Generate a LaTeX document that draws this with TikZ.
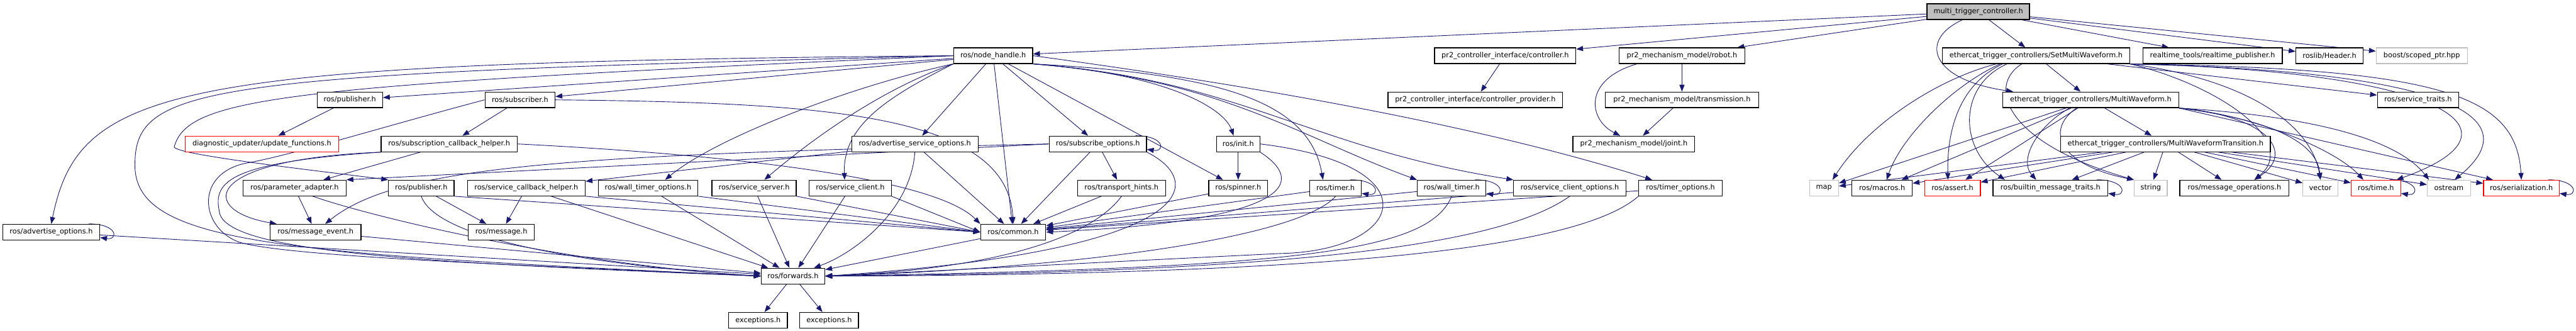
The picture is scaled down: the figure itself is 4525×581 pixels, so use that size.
\documentclass[tikz,border=0pt]{standalone}
\usepackage{fontspec}
\setmainfont{DejaVu Sans}
\usepackage{xcolor}
\usepackage{tikz}
\usetikzlibrary{arrows.meta, backgrounds}
\definecolor{depblue}{HTML}{191970}
\definecolor{boxgray}{HTML}{BFBFBF}
\definecolor{boxred}{HTML}{FF0000}

\begin{document}
\begin{tikzpicture}[x=1pt,y=1pt,font=\fontsize{12.5}{15}\selectfont,
    hdr/.style={draw=black,fill=white,line width=1.4pt,minimum height=27.5pt,inner sep=0pt},
    sys/.style={hdr,draw=boxgray},
    trunc/.style={hdr,draw=boxred},
    dep/.style={draw=depblue,line width=1pt,-{Triangle[length=12pt,width=9pt]}}]
        \useasboundingbox (0,0) rectangle (4525,-581);
        % top
        \node[hdr,fill=boxgray,minimum width=180pt] (mtc) at (3475,-20.5) {multi\_trigger\_controller.h};
        % row 1
        \node[hdr,minimum width=139pt] (nodehandle) at (1744.5,-97.8) {ros/node\_handle.h};
        \node[hdr,minimum width=248pt] (ctrl) at (2644,-97.8) {pr2\_controller\_interface/controller.h};
        \node[hdr,minimum width=221pt] (robot) at (2954.5,-97.8) {pr2\_mechanism\_model/robot.h};
        \node[hdr,minimum width=329pt] (setmw) at (3576.5,-97.8) {ethercat\_trigger\_controllers/SetMultiWaveform.h};
        \node[hdr,minimum width=245pt] (rtpub) at (3886.5,-97.8) {realtime\_tools/realtime\_publisher.h};
        \node[hdr,minimum width=118pt] (header) at (4092,-97.8) {roslib/Header.h};
        \node[sys,minimum width=160pt] (scoped) at (4254,-97.8) {boost/scoped\_ptr.hpp};
        % row 2
        \node[hdr,minimum width=115pt] (pub1) at (614.5,-175.3) {ros/publisher.h};
        \node[hdr,minimum width=123pt] (sub) at (913.5,-175.3) {ros/subscriber.h};
        \node[hdr,minimum width=307pt] (ctrlprov) at (2591.5,-175.3) {pr2\_controller\_interface/controller\_provider.h};
        \node[hdr,minimum width=269pt] (trans) at (2954.5,-175.3) {pr2\_mechanism\_model/transmission.h};
        \node[hdr,minimum width=309pt] (mw) at (3672.5,-175.3) {ethercat\_trigger\_controllers/MultiWaveform.h};
        \node[hdr,minimum width=143pt] (srvtraits) at (4247.5,-175.3) {ros/service\_traits.h};
        % row 3
        \node[trunc,minimum width=270pt] (diag) at (460,-252.7) {diagnostic\_updater/update\_functions.h};
        \node[hdr,minimum width=239pt] (subcb) at (789,-252.7) {ros/subscription\_callback\_helper.h};
        \node[hdr,minimum width=222pt] (advsrv) at (1607,-252.7) {ros/advertise\_service\_options.h};
        \node[hdr,minimum width=171pt] (subopt) at (1928.5,-252.7) {ros/subscribe\_options.h};
        \node[hdr,minimum width=76pt] (init) at (2175,-252.7) {ros/init.h};
        \node[hdr,minimum width=214pt] (joint) at (2870,-252.7) {pr2\_mechanism\_model/joint.h};
        \node[hdr,minimum width=368pt] (mwt) at (3804,-252.7) {ethercat\_trigger\_controllers/MultiWaveformTransition.h};
        % row 4
        \node[hdr,minimum width=181pt] (padapt) at (517.4,-330.1) {ros/parameter\_adapter.h};
        \node[hdr,minimum width=115pt] (pub2) at (740,-330.1) {ros/publisher.h};
        \node[hdr,minimum width=207pt] (srvcb) at (924.5,-330.1) {ros/service\_callback\_helper.h};
        \node[hdr,minimum width=175pt] (wtopt) at (1138.4,-330.1) {ros/wall\_timer\_options.h};
        \node[hdr,minimum width=148pt] (srvsrv) at (1324.6,-330.1) {ros/service\_server.h};
        \node[hdr,minimum width=144pt] (srvcli) at (1493.6,-330.1) {ros/service\_client.h};
        \node[hdr,minimum width=154.5pt] (hints) at (1970,-330.1) {ros/transport\_hints.h};
        \node[hdr,minimum width=103.6pt] (spinner) at (2175,-330.1) {ros/spinner.h};
        \node[hdr,minimum width=90.6pt] (timer) at (2346,-330.1) {ros/timer.h};
        \node[hdr,minimum width=120.5pt] (wtimer) at (2550,-330.1) {ros/wall\_timer.h};
        \node[hdr,minimum width=197pt] (scliopt) at (2757.4,-330.1) {ros/service\_client\_options.h};
        \node[hdr,minimum width=146.5pt] (topt) at (2952,-330.1) {ros/timer\_options.h};
        \node[sys,minimum width=51pt] (map) at (3204,-330.1) {map};
        \node[hdr,minimum width=106pt] (macros) at (3306,-330.1) {ros/macros.h};
        \node[trunc,minimum width=98pt] (assert) at (3429.7,-330.1) {ros/assert.h};
        \node[hdr,minimum width=201.6pt] (builtin) at (3601.8,-330.1) {ros/builtin\_message\_traits.h};
        \node[sys,minimum width=57.7pt] (string) at (3778,-330.1) {string};
        \node[hdr,minimum width=192pt] (msgops) at (3925,-330.1) {ros/message\_operations.h};
        \node[sys,minimum width=61.7pt] (vector) at (4076,-330.1) {vector};
        \node[trunc,minimum width=87pt] (time) at (4173.5,-330.1) {ros/time.h};
        \node[sys,minimum width=76pt] (ostream) at (4301.7,-330.1) {ostream};
        \node[trunc,minimum width=133pt] (serial) at (4429,-330.1) {ros/serialization.h};
        % row 5
        \node[hdr,minimum width=170.4pt] (advopt) at (90,-407.5) {ros/advertise\_options.h};
        \node[hdr,minimum width=159.4pt] (msgevent) at (554.3,-407.5) {ros/message\_event.h};
        \node[hdr,minimum width=116pt] (message) at (880.6,-407.5) {ros/message.h};
        \node[hdr,minimum width=114.5pt] (common) at (1779.75,-407.5) {ros/common.h};
        % bottom
        \node[hdr,minimum width=112pt] (forwards) at (1393,-484.7) {ros/forwards.h};
        \node[hdr,minimum width=103pt] (exc1) at (1331.5,-562.2) {exceptions.h};
        \node[hdr,minimum width=103pt] (exc2) at (1456.5,-562.2) {exceptions.h};

        \begin{scope}[on background layer]
        \fill[white] (0,0) rectangle (4525,-581);
        % straight includes
        \foreach \a/\b in {mtc/nodehandle,mtc/ctrl,mtc/robot,mtc/setmw,mtc/rtpub,mtc/header,mtc/scoped,
            ctrl/ctrlprov,robot/trans,trans/joint,setmw/mw,setmw/srvtraits,
            mw/mwt,mw/map,mw/macros,mw/assert,
            mwt/map,mwt/macros,mwt/assert,mwt/builtin,mwt/string,mwt/msgops,mwt/vector,mwt/time,mwt/ostream,mwt/serial,
            nodehandle/pub1,nodehandle/sub,nodehandle/advsrv,nodehandle/common,nodehandle/subopt,nodehandle/spinner,
            pub1/diag,sub/subcb,subcb/padapt,padapt/msgevent,msgevent/forwards,advopt/forwards,
            pub2/message,srvcb/message,srvcb/forwards,wtopt/forwards,srvsrv/forwards,srvcli/forwards,
            advsrv/srvcb,advsrv/common,subopt/hints,subopt/common,hints/common,init/spinner,
            spinner/common,timer/common,wtimer/common,scliopt/common,topt/common,
            common/forwards,forwards/exc1,forwards/exc2} {
          \draw[dep] (\a) -- (\b);
        }
        \foreach \a in {pub2,srvcb,wtopt,srvsrv,srvcli} {
          \draw[dep] (\a.south east) -- (common.west);
        }
        % self includes
        \foreach \n in {advopt,subopt,timer,wtimer,builtin,time,serial} {
          \draw[dep] ([xshift=-20pt]\n.north east) .. controls ([xshift=32pt]\n.north east) and ([xshift=32pt]\n.south east) .. ([yshift=5pt]\n.south east);
        }
        % multi_trigger_controller.h and pr2 headers
        \draw[dep] ([xshift=-28pt]mtc.south) .. controls (3370,-70) and (3390,-140) .. ([xshift=19pt]mw.north west);
        \draw[dep] ([xshift=32pt]robot.south west) .. controls (2780,-140) and (2790,-210) .. ([xshift=-24pt]joint.north);
        % SetMultiWaveform.h
        \draw[dep] ([xshift=-70pt]setmw.south) .. controls (3400,-140) and (3280,-220) .. ([xshift=15pt]map.north);
        \draw[dep] ([xshift=-63pt]setmw.south) .. controls (3430,-150) and (3340,-240) .. ([xshift=8pt]macros.north);
        \draw[dep] ([xshift=-59pt]setmw.south) .. controls (3440,-150) and (3420,-230) .. ([xshift=-8pt]assert.north);
        \draw[dep] ([xshift=-51pt]setmw.south) .. controls (3440,-150) and (3440,-260) .. ([xshift=-80pt]builtin.north);
        \draw[dep] ([xshift=-25pt]setmw.south) .. controls (3490,-150) and (3520,-250) .. (string.north west);
        \draw[dep] (setmw.south east) .. controls (3900,-150) and (4040,-250) .. ([xshift=35pt]msgops.north);
        \draw[dep] (setmw.south east) .. controls (3950,-140) and (4060,-220) .. (vector.north);
        \draw[dep] (setmw.south east) .. controls (4300,-125) and (4450,-230) .. ([xshift=-8pt]time.north east);
        \draw[dep] (setmw.south east) .. controls (4320,-125) and (4440,-210) .. ([xshift=10pt]ostream.north);
        \draw[dep] (setmw.south east) .. controls (4300,-120) and (4420,-170) .. (serial.north);
        % MultiWaveform.h
        \draw[dep] ([xshift=-37pt]mw.south) .. controls (3580,-220) and (3545,-280) .. ([xshift=-25pt]builtin.north);
        \draw[dep] ([xshift=-25pt]mw.south) .. controls (3590,-230) and (3620,-290) .. (string.north west);
        \draw[dep] (mw.south east) .. controls (3990,-205) and (4030,-270) .. ([xshift=35pt]msgops.north);
        \draw[dep] (mw.south east) .. controls (3990,-210) and (4070,-250) .. (vector.north);
        \draw[dep] (mw.south east) .. controls (3950,-200) and (4100,-260) .. ([xshift=-22pt]time.north);
        \draw[dep] (mw.south east) .. controls (4000,-200) and (4200,-230) .. ([xshift=-35pt]ostream.north);
        \draw[dep] (mw.south east) -- ([xshift=-50pt]serial.north);
        % node_handle.h
        \draw[dep] (nodehandle.west) .. controls (300,-110) and (140,-150) .. (advopt.north);
        \draw[dep] (nodehandle.west) .. controls (350,-130) and (237,-150) .. (237,-290) .. controls (237,-430) and (500,-445) .. (forwards.west);
        \draw[dep] (nodehandle.west) .. controls (500,-150) and (330,-170) .. (306,-258) .. controls (310,-272) and (560,-300) .. (pub2.north west);
        \draw[dep] (nodehandle.south west) .. controls (1500,-150) and (1260,-240) .. ([xshift=30pt]wtopt.north);
        \draw[dep] (nodehandle.south west) .. controls (1540,-160) and (1420,-250) .. ([xshift=18pt]srvsrv.north);
        \draw[dep] (nodehandle.south west) .. controls (1560,-170) and (1480,-220) .. ([xshift=-10pt]srvcli.north);
        \draw[dep] (nodehandle.south east) .. controls (2050,-130) and (2150,-190) .. ([xshift=-8pt]init.north);
        \draw[dep] (nodehandle.south east) .. controls (2150,-130) and (2300,-180) .. ([xshift=-22pt]timer.north);
        \draw[dep] (nodehandle.south east) .. controls (2150,-140) and (2280,-240) .. (wtimer.north west);
        \draw[dep] (nodehandle.south east) .. controls (2180,-140) and (2300,-260) .. (scliopt.north west);
        \draw[dep] (nodehandle.east) .. controls (2200,-150) and (2600,-220) .. ([xshift=-50pt]topt.north);
        % subscriber side
        \draw[dep] (sub.east) .. controls (1450,-180) and (1770,-200) .. (common.north);
        \draw[dep] (sub.west) .. controls (700,-215) and (520,-270) .. (440,-285) .. controls (340,-300) and (350,-400) .. (420,-425) .. controls (500,-450) and (900,-465) .. (forwards.west);
        \draw[dep] (subcb.south west) .. controls (350,-280) and (350,-370) .. ([xshift=12pt]msgevent.north west);
        \draw[dep] (subcb.south west) .. controls (400,-285) and (375,-320) .. (385,-370) .. controls (390,-440) and (700,-460) .. (forwards.west);
        \draw[dep] (subcb.east) .. controls (1350,-275) and (1650,-320) .. (common.north west);
        \draw[dep] ([xshift=32pt]padapt.south) .. controls (650,-380) and (1000,-465) .. (forwards.west);
        \draw[dep] (pub2.south) .. controls (770,-430) and (1100,-470) .. (forwards.west);
        \draw[dep] (subopt.west) -- (padapt.north east);
        \draw[dep] (subopt.west) .. controls (1000,-272) and (700,-290) .. ([xshift=17pt]msgevent.north);
        % into forwards.h from the right
        \draw[dep] (advsrv.south) .. controls (1600,-370) and (1500,-445) .. ([xshift=-20pt]forwards.north east);
        \draw[dep] (subopt.south east) .. controls (2120,-320) and (2110,-440) .. (forwards.east);
        \draw[dep] (hints.south) .. controls (1930,-400) and (1800,-470) .. (forwards.east);
        \draw[dep] (init.south east) .. controls (2310,-330) and (2230,-390) .. (common.east);
        \draw[dep] (init.east) .. controls (2520,-290) and (2470,-440) .. (2250,-445) .. controls (1900,-462) and (1600,-478) .. (forwards.east);
        \draw[dep] (timer.south) .. controls (2290,-410) and (1950,-468) .. (forwards.east);
        \draw[dep] (wtimer.south) .. controls (2510,-440) and (2300,-470) .. (forwards.east);
        \draw[dep] (scliopt.south) .. controls (2650,-420) and (2350,-478) .. (forwards.east);
        \draw[dep] (topt.south west) .. controls (2780,-430) and (2400,-482) .. (forwards.east);
        \end{scope}
      \end{tikzpicture}
\end{document}
